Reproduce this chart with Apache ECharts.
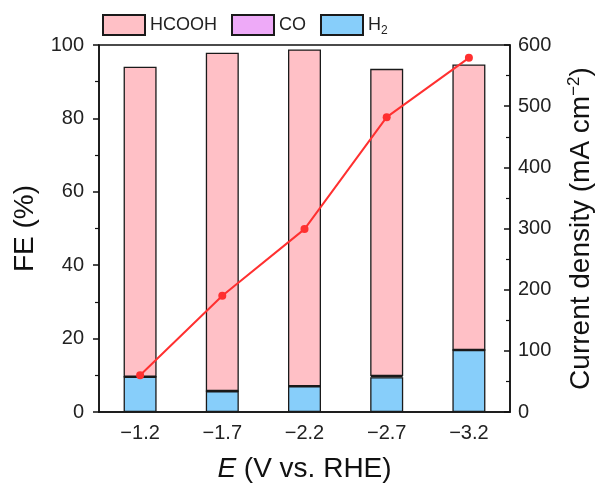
<!DOCTYPE html>
<html>
<head>
<meta charset="utf-8">
<script src="https://cdn.jsdelivr.net/npm/echarts@6/dist/echarts.min.js"></script>
<style>
  html, body { margin: 0; padding: 0; background: #fff; }
  #chart { width: 604px; height: 488px; }
</style>
</head>
<body>
<div id="chart"></div>
<script>
// potentials (V vs. RHE)
const potentials = ['\u22121.2', '\u22121.7', '\u22122.2', '\u22122.7', '\u22123.2']
// faradaic efficiencies, %
const feH2 = [9.6, 5.7, 7.0, 9.5, 16.9]
const feCO = [0, 0, 0, 0.3, 0]
const feHCOOH = [84.5, 92.2, 91.8, 83.7, 77.8]
// current density, mA cm-2
const currentDensity = [60, 190, 299, 482, 579]

const font = 'Liberation Sans, Arial, sans-serif'
const border = { borderColor: '#1a1a1a', borderWidth: 1.3 }

const barSeries = (name, data, color) => ({
  name, type: 'bar', stack: 'fe', data, barWidth: 33,
  itemStyle: { color, ...border },
})

const chart = echarts.init(document.getElementById('chart'))
chart.setOption({
  backgroundColor: '#fff',
  animation: false,
  textStyle: { fontFamily: font },
  grid: { left: 99, right: 94, top: 45, bottom: 76, show: true, borderColor: '#111', borderWidth: 1.5 },
  legend: {
    data: ['HCOOH', 'CO', 'H2'],
    left: 97, top: 9,
    itemWidth: 42, itemHeight: 20, itemGap: 14,
    icon: 'rect',
    textStyle: {
      fontSize: 18, color: '#222', fontFamily: font,
      rich: { sub: { fontSize: 12, padding: [12, 0, 0, 0], fontFamily: font, color: '#222' } },
    },
    formatter: (n) => (n === 'H2' ? 'H{sub|2}' : n),
  },
  xAxis: {
    type: 'category',
    data: potentials,
    name: '{i|E} (V vs. RHE)',
    nameLocation: 'middle',
    nameGap: 43,
    nameTextStyle: {
      fontSize: 28, color: '#111', fontFamily: font,
      rich: { i: { fontSize: 28, fontStyle: 'italic', color: '#111', fontFamily: font } },
    },
    axisLine: { lineStyle: { color: '#111', width: 1.5 } },
    axisTick: { alignWithLabel: true, length: 6, lineStyle: { color: '#111', width: 1.5 } },
    axisLabel: { fontSize: 20, color: '#222', margin: 11 },
  },
  yAxis: [
    {
      type: 'value', min: 0, max: 100, interval: 20,
      name: 'FE (%)', nameLocation: 'middle', nameGap: 56,
      nameTextStyle: { fontSize: 28, color: '#111', fontFamily: font },
      axisLine: { show: true, lineStyle: { color: '#111', width: 1.5 } },
      axisTick: { show: true, length: 6, lineStyle: { color: '#111', width: 1.5 } },
      minorTick: { show: true, splitNumber: 2, length: 4, lineStyle: { color: '#111', width: 1.2 } },
      axisLabel: { fontSize: 20, color: '#222', margin: 15 },
      splitLine: { show: false },
    },
    {
      type: 'value', min: 0, max: 600, interval: 100,
      name: 'Current density (mA cm{sup|\u22122})', nameLocation: 'middle', nameGap: 56,
      nameTextStyle: {
        fontSize: 28, color: '#111', fontFamily: font,
        rich: { sup: { fontSize: 17, padding: [0, 0, 14, 0], color: '#111', fontFamily: font } },
      },
      axisLine: { show: true, lineStyle: { color: '#111', width: 1.5 } },
      axisTick: { show: true, inside: true, length: 6, lineStyle: { color: '#111', width: 1.5 } },
      minorTick: { show: true, splitNumber: 2, length: 4, lineStyle: { color: '#111', width: 1.2 } },
      axisLabel: { fontSize: 20, color: '#222', margin: 8 },
      splitLine: { show: false },
    },
  ],
  series: [
    barSeries('H2', feH2, '#87CEFA'),
    barSeries('CO', feCO, '#EEAAF8'),
    barSeries('HCOOH', feHCOOH, '#FFC0C6'),
    {
      name: 'j', type: 'line', yAxisIndex: 1, data: currentDensity,
      symbol: 'circle', symbolSize: 8,
      lineStyle: { color: '#FF3030', width: 2 },
      itemStyle: { color: '#FF3030' },
      z: 10,
    },
  ],
})
</script>
</body>
</html>
